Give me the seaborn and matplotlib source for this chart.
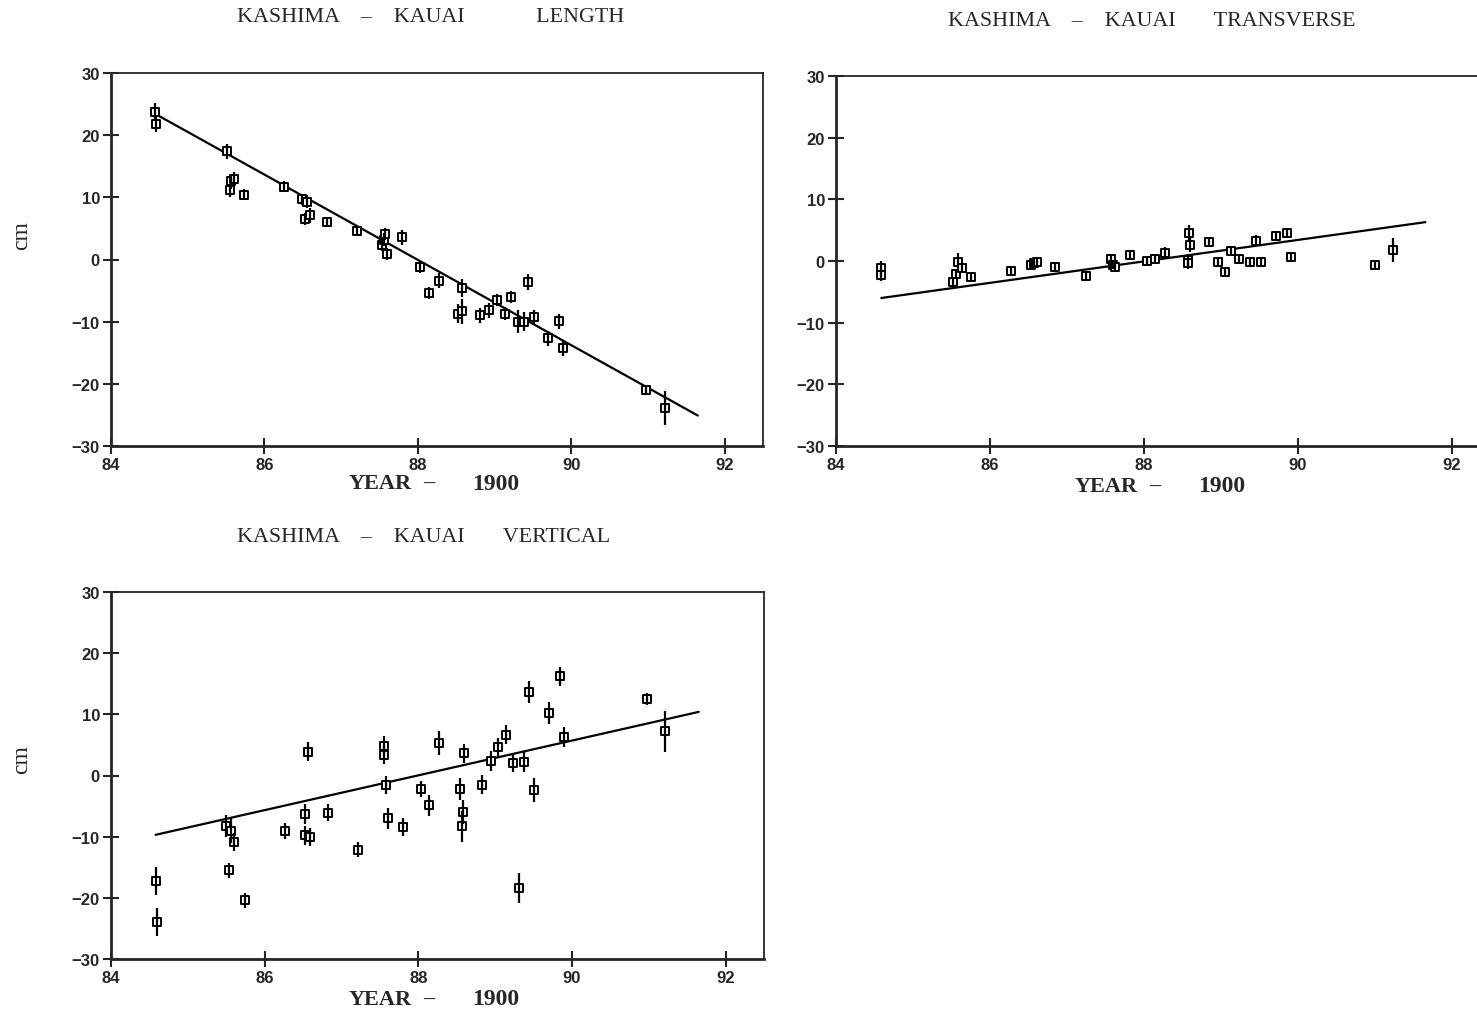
import numpy as np
import pandas as pd
import seaborn as sns
import matplotlib.pyplot as plt

# KASHIMA - KAUAI baseline, length / transverse / vertical (cm vs year-1900)
len_year = [84.58, 84.59, 85.51, 85.55, 85.57, 85.61, 85.74, 86.26, 86.49, 86.56,
            86.53, 86.59, 86.81, 87.21, 87.53, 87.56, 87.57, 87.60, 87.79, 88.03,
            88.14, 88.27, 88.52, 88.57, 88.58, 88.81, 88.93, 89.03, 89.13, 89.22,
            89.31, 89.38, 89.43, 89.51, 89.70, 89.84, 89.89, 90.98, 91.22]
len_cm = [23.7, 21.8, 17.4, 11.1, 12.6, 12.9, 10.4, 11.7, 9.7, 9.3,
          6.5, 7.1, 6.1, 4.6, 2.4, 3.2, 4.1, 0.9, 3.6, -1.2,
          -5.4, -3.4, -8.7, -8.3, -4.6, -9.0, -8.2, -6.5, -8.7, -6.0,
          -10.0, -10.0, -3.6, -9.3, -12.7, -9.9, -14.3, -21.0, -23.9]
len_err = [1.5, 1.3, 1.2, 1.0, 1.2, 1.2, 0.9, 0.9, 0.9, 1.0,
           0.9, 1.2, 0.8, 0.8, 1.0, 1.0, 1.0, 1.0, 1.2, 0.9,
           0.9, 1.2, 1.5, 2.0, 1.5, 1.2, 1.2, 1.0, 1.0, 1.0,
           1.8, 1.5, 1.3, 1.2, 1.2, 1.2, 1.3, 0.8, 2.8]
len_fit_x = [84.58, 91.65]
len_fit_y = [23.4, -25.1]

tr_year = [84.59, 84.59, 85.52, 85.56, 85.59, 85.64, 85.76, 86.28, 86.53, 86.57,
           86.61, 86.84, 87.25, 87.57, 87.60, 87.63, 87.82, 88.04, 88.14, 88.28,
           88.59, 88.60, 88.57, 88.58, 88.85, 88.96, 89.06, 89.14, 89.24, 89.38,
           89.46, 89.53, 89.72, 89.86, 89.92, 91.00, 91.24]
tr_cm = [-1.2, -2.3, -3.4, -2.1, -0.2, -1.2, -2.6, -1.6, -0.6, -0.3,
         -0.1, -0.9, -2.4, 0.3, -0.6, -0.9, 1.0, 0.0, 0.3, 1.3,
         4.6, 2.6, 0.2, -0.3, 3.1, -0.1, -1.8, 1.6, 0.4, -0.1,
         3.3, -0.1, 4.1, 4.6, 0.6, -0.6, 1.8]
tr_err = [1.2, 1.0, 0.8, 0.7, 1.5, 0.8, 0.6, 0.6, 0.7, 0.6,
          0.6, 0.6, 0.6, 0.7, 0.7, 0.7, 0.8, 0.5, 0.5, 0.9,
          1.2, 1.2, 1.0, 1.0, 0.8, 0.7, 0.6, 0.8, 0.6, 0.8,
          0.9, 0.8, 0.7, 0.7, 0.8, 0.6, 2.0]
tr_fit_x = [84.59, 91.66]
tr_fit_y = [-6.0, 6.3]

ve_year = [84.58, 84.60, 85.50, 85.56, 85.60, 85.54, 85.74, 86.27, 86.52, 86.52,
           86.59, 86.56, 86.82, 87.22, 87.55, 87.56, 87.58, 87.60, 87.80, 88.04,
           88.14, 88.27, 88.54, 88.58, 88.57, 88.60, 88.83, 88.94, 89.04, 89.14,
           89.23, 89.31, 89.38, 89.44, 89.51, 89.70, 89.85, 89.90, 90.98, 91.21]
ve_cm = [-17.3, -23.9, -8.3, -9.0, -10.9, -15.5, -20.4, -9.1, -6.3, -9.8,
         -10.1, 3.9, -6.1, -12.1, 3.4, 4.9, -1.5, -7.0, -8.4, -2.2,
         -4.9, 5.3, -2.2, -6.0, -8.3, 3.6, -1.5, 2.4, 4.6, 6.7,
         2.0, -18.4, 2.2, 13.6, -2.4, 10.2, 16.2, 6.3, 12.5, 7.2]
ve_err = [2.3, 2.3, 1.8, 2.0, 1.5, 1.2, 1.2, 1.3, 1.6, 1.5,
          1.5, 1.6, 1.4, 1.2, 1.5, 1.5, 1.5, 1.7, 1.5, 1.3,
          1.7, 1.9, 1.8, 2.0, 2.5, 1.6, 1.6, 1.6, 1.5, 1.6,
          1.4, 2.5, 1.7, 1.8, 2.0, 1.8, 1.6, 1.6, 1.0, 3.4]
ve_fit_x = [84.58, 91.65]
ve_fit_y = [-9.7, 10.4]

x_ticks = [84, 86, 88, 90, 92]
y_ticks = [-30, -20, -10, 0, 10, 20, 30]

sns.set_style("ticks")
plt.rcParams['font.family'] = ['Liberation Sans', 'DejaVu Sans']

W, H = 1477, 1012
fig = plt.figure(figsize=(W / 100, H / 100), dpi=100)


def px_axes(left, top, right, bottom):
    # axes from pixel box
    return fig.add_axes([left / W, 1 - bottom / H, (right - left) / W, (bottom - top) / H])


def draw_panel(ax, years, cm, err, fit_x, fit_y):
    df = pd.DataFrame({"year": years, "cm": cm})
    sns.lineplot(x=fit_x, y=fit_y, ax=ax, color="black", linewidth=1.6, zorder=2)
    sns.scatterplot(data=df, x="year", y="cm", ax=ax, marker="s", s=40,
                    color="white", edgecolor="black", linewidth=1.4, zorder=3)
    ax.errorbar(years, cm, yerr=err, fmt="none", ecolor="black",
                elinewidth=1.6, capsize=0, zorder=4)
    ax.set_xlim(84, 92.5)
    ax.set_ylim(-30, 30)
    ax.set_xticks(x_ticks)
    ax.set_yticks(y_ticks)
    ax.set_xlabel("")
    ax.set_ylabel("")
    ax.tick_params(direction="inout", length=12, width=1.5, labelsize=12, pad=2)
    for lab in ax.get_xticklabels() + ax.get_yticklabels():
        lab.set_fontweight("bold")
    for side in ["left", "bottom"]:
        ax.spines[side].set_linewidth(2.0)
    for side in ["top", "right"]:
        ax.spines[side].set_linewidth(1.3)


ax1 = px_axes(111, 74, 763, 447)
draw_panel(ax1, len_year, len_cm, len_err, len_fit_x, len_fit_y)
ax2 = px_axes(836, 77, 1490, 447)
draw_panel(ax2, tr_year, tr_cm, tr_err, tr_fit_x, tr_fit_y)
ax3 = px_axes(111, 593, 764, 960)
draw_panel(ax3, ve_year, ve_cm, ve_err, ve_fit_x, ve_fit_y)

serif = ['Liberation Serif', 'DejaVu Serif']
titles = [(237, 18, "KASHIMA    \u2013    KAUAI             LENGTH"),
          (948, 22, "KASHIMA    \u2013    KAUAI       TRANSVERSE"),
          (237, 537, "KASHIMA    \u2013    KAUAI       VERTICAL")]
for tx, ty, txt in titles:
    fig.text(tx / W, 1 - ty / H, txt, ha="left", va="center",
             family=serif, fontsize=15.8)

for lx, ly in [(349, 484), (1075, 487), (349, 1000)]:
    fig.text(lx / W, 1 - ly / H, "YEAR", ha="left", va="center",
             family=serif, fontsize=16, fontweight="bold")
    fig.text((lx + 80) / W, 1 - ly / H, "\u2013", ha="center", va="center",
             family=serif, fontsize=16, fontweight="bold")
    fig.text((lx + 170) / W, 1 - ly / H, "1900", ha="right", va="center",
             family=serif, fontsize=17, fontweight="bold")
for cy in [236, 760]:
    fig.text(22 / W, 1 - cy / H, "cm", ha="center", va="center", rotation=90,
             family=serif, fontsize=17)

plt.savefig("out.png", dpi=100)
